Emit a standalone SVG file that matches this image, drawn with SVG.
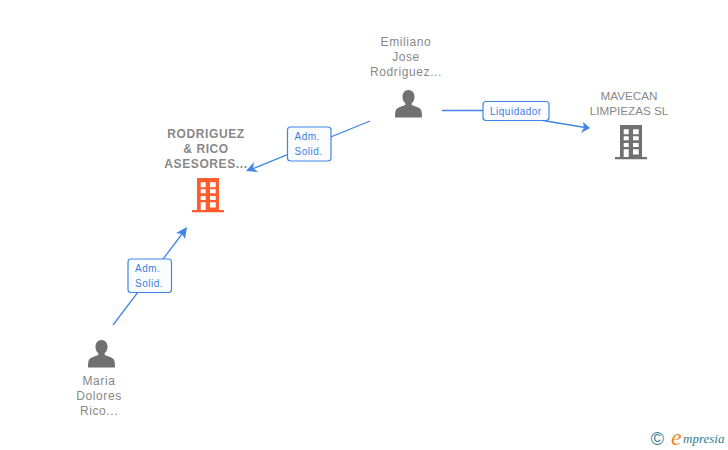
<svg xmlns="http://www.w3.org/2000/svg" width="728" height="450" viewBox="0 0 728 450">
<style>
text{font-family:"Liberation Sans",Arial,sans-serif}
.n{font-size:12px;fill:#888888;text-anchor:middle;letter-spacing:.6px}
.u{font-size:11.700px;letter-spacing:0}
.b{font-weight:bold;letter-spacing:.6px}
.l{font-size:10px;fill:#3b7fdc;letter-spacing:.5px}
.c{fill:none;stroke:#4287e6;stroke-width:1.300}
.a{fill:#3f85e6}
.box{fill:#fbfcff;stroke:#3f85e6;stroke-width:1.200}
.p{fill:#707070}
.w{font-family:"Liberation Serif",serif;font-style:italic}
</style>
<defs>
<path id="person" d="M0-14c-3.800 0-6 3-6 6.700 0 2.600 1 5 2.800 6.300l0 1.800c-.6 1-7.200 2.300-9 4.500-1 1.200-1.300 4.200-1.300 8.200h27c0-4-.3-7-1.300-8.200-1.800-2.200-8.400-3.500-9-4.500l0-1.800c1.800-1.300 2.800-3.700 2.800-6.300 0-3.700-2.200-6.700-6-6.700z"/>
<path id="building" fill-rule="evenodd" d="M-11-17H11V15H16V17.300H-16V15H-11ZM-7.300-12.700V-7.700H-2.300V-12.700ZM2-12.700V-7.700H7.700V-12.700ZM-7.300-5.700V-1.700H-2.300V-5.700ZM2-5.700V-1.700H7.700V-5.700ZM-7.300 1V5H-2.300V1ZM2 1V5H7.700V1ZM-7.300 7.300V15H-2.300V7.300ZM2 7.300V12.500H7.700V7.300Z"/>
</defs>
<g id="connectors">
<path class="c" d="M113 325L182 234"/>
<path class="a" d="M187 227L185 239 182 234 176 233Z"/>
<path class="c" d="M370 121L252 169"/>
<path class="a" d="M246 171L254 162 253 168 258 172Z"/>
<path class="c" d="M442 110.500H485M540 120L585 127.500"/>
<path class="a" d="M590 128L583 122 584 127.500 581 133Z"/>
</g>
<g id="label1"><rect class="box" x="128" y="259" width="43.500" height="33.500" rx="3"/><text class="l" x="135" y="272">Adm.</text><text class="l" x="135" y="287">Solid.</text></g>
<g id="label2"><rect class="box" x="287.500" y="127" width="43.500" height="34" rx="3"/><text class="l" x="294.500" y="140">Adm.</text><text class="l" x="294.500" y="155">Solid.</text></g>
<g id="label3"><rect class="box" x="483" y="101.500" width="66" height="19" rx="3"/><text class="l" x="490" y="114.500">Liquidador</text></g>
<g id="node-rodriguez"><text class="n b" x="206" y="138">RODRIGUEZ</text><text class="n b" x="206" y="153">&amp; RICO</text><text class="n b" x="206" y="168">ASESORES...</text><use href="#building" x="208" y="195" fill="#ff5d2e"/></g>
<g id="node-emiliano"><text class="n" x="406" y="46">Emiliano</text><text class="n" x="406" y="61">Jose</text><text class="n" x="406" y="76">Rodriguez...</text><use href="#person" class="p" x="408.500" y="104"/></g>
<g id="node-mavecan"><text class="n u" x="629" y="100">MAVECAN</text><text class="n u" x="629" y="115">LIMPIEZAS SL</text><use href="#building" x="631" y="142" fill="#707070"/></g>
<g id="node-maria"><text class="n" x="99" y="385">Maria</text><text class="n" x="99" y="400">Dolores</text><text class="n" x="99" y="415">Rico...</text><use href="#person" class="p" x="101.500" y="354"/></g>
<g id="watermark"><text x="657.500" y="445" font-size="18" fill="#3d7f95" text-anchor="middle">©</text><text class="w" x="671" y="445" font-size="24" fill="#f08a1d">e</text><text class="w" x="683" y="443" font-size="13" fill="#2f7d92">mpresia</text></g>
</svg>
